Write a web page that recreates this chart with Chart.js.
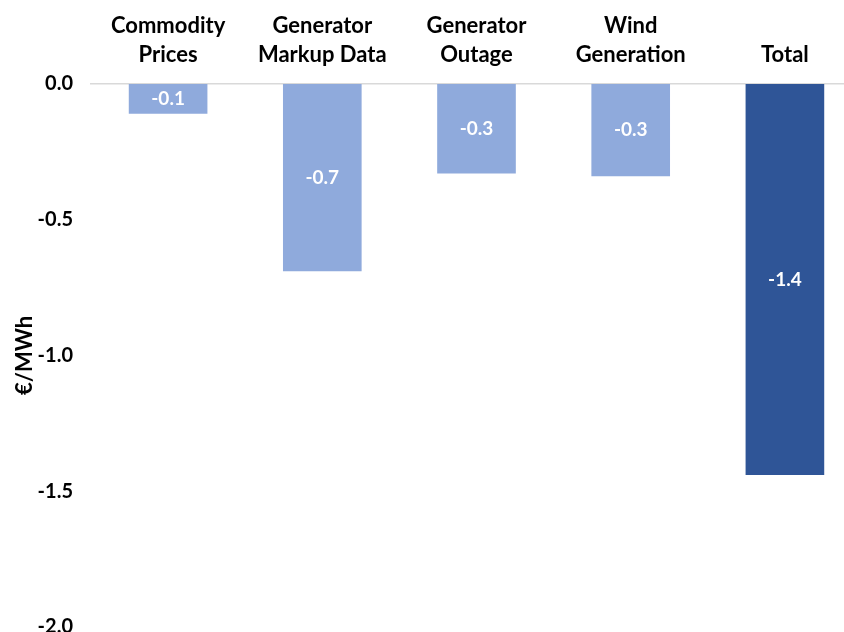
<!DOCTYPE html>
<html>
<head>
<meta charset="utf-8">
<script src="https://cdn.jsdelivr.net/npm/chart.js@4.4.1/dist/chart.umd.min.js"></script>
<style>
  html, body { margin: 0; padding: 0; background: #ffffff; overflow: hidden; }
  #wrap { position: absolute; left: 0; top: 0; width: 862px; height: 649px; }
</style>
</head>
<body>
<div id="wrap"><canvas id="chart"></canvas></div>
<script>
// Price impact of each driver, €/MWh
const categories = [
  ['Commodity', 'Prices'],
  ['Generator', 'Markup Data'],
  ['Generator', 'Outage'],
  ['Wind', 'Generation'],
  ['Total']
];
const impacts = [-0.11, -0.69, -0.33, -0.34, -1.44];
const barColors = ['#8FAADC', '#8FAADC', '#8FAADC', '#8FAADC', '#2F5597'];
const yTicks = [0, -0.5, -1.0, -1.5, -2.0];

const FONT = 'Lato, "Open Sans", sans-serif';

// White value labels centred inside each bar
const barValueLabels = {
  id: 'barValueLabels',
  afterDatasetsDraw(chart) {
    const ctx = chart.ctx;
    const meta = chart.getDatasetMeta(0);
    ctx.save();
    ctx.fillStyle = '#ffffff';
    ctx.font = 'bold 19px ' + FONT;
    ctx.textAlign = 'center';
    ctx.textBaseline = 'middle';
    meta.data.forEach((bar, i) => {
      const v = chart.data.datasets[0].data[i];
      const { x, y, base } = bar.getProps(['x', 'y', 'base'], true);
      ctx.fillText(v.toFixed(1), x, (y + base) / 2);
    });
    ctx.restore();
  }
};

new Chart(document.getElementById('chart'), {
  type: 'bar',
  data: {
    labels: categories,
    datasets: [{
      data: impacts,
      backgroundColor: barColors,
      borderWidth: 0,
      barPercentage: 1,
      categoryPercentage: 0.51
    }]
  },
  options: {
    responsive: true,
    maintainAspectRatio: false,
    animation: false,
    layout: { padding: { left: 8, right: 0, top: 0, bottom: 8 } },
    plugins: {
      legend: { display: false },
      tooltip: { enabled: false },
      title: { display: false }
    },
    scales: {
      x: {
        position: 'top',
        grid: { display: false },
        border: { display: true, color: '#D9D9D9', width: 1.5 },
        ticks: {
          color: '#000000',
          font: { family: FONT, size: 22, weight: 'bold', lineHeight: 1.32 },
          padding: 7,
          maxRotation: 0,
          autoSkip: false
        },
        afterFit(scale) { scale.height = 84; }
      },
      y: {
        min: -2.0,
        max: 0,
        afterBuildTicks(scale) { scale.ticks = yTicks.map(v => ({ value: v })); },
        grid: { display: false },
        border: { display: false },
        ticks: {
          color: '#000000',
          font: { family: FONT, size: 20, weight: 'bold' },
          padding: 10,
          callback: v => Number(v).toFixed(1)
        },
        title: {
          display: true,
          text: '€/MWh',
          color: '#000000',
          font: { family: FONT, size: 22, weight: 'bold' },
          padding: { top: 4, bottom: 0 }
        },
        afterFit(scale) { scale.width = 83; }
      }
    }
  },
  plugins: [barValueLabels]
});
</script>
</body>
</html>
